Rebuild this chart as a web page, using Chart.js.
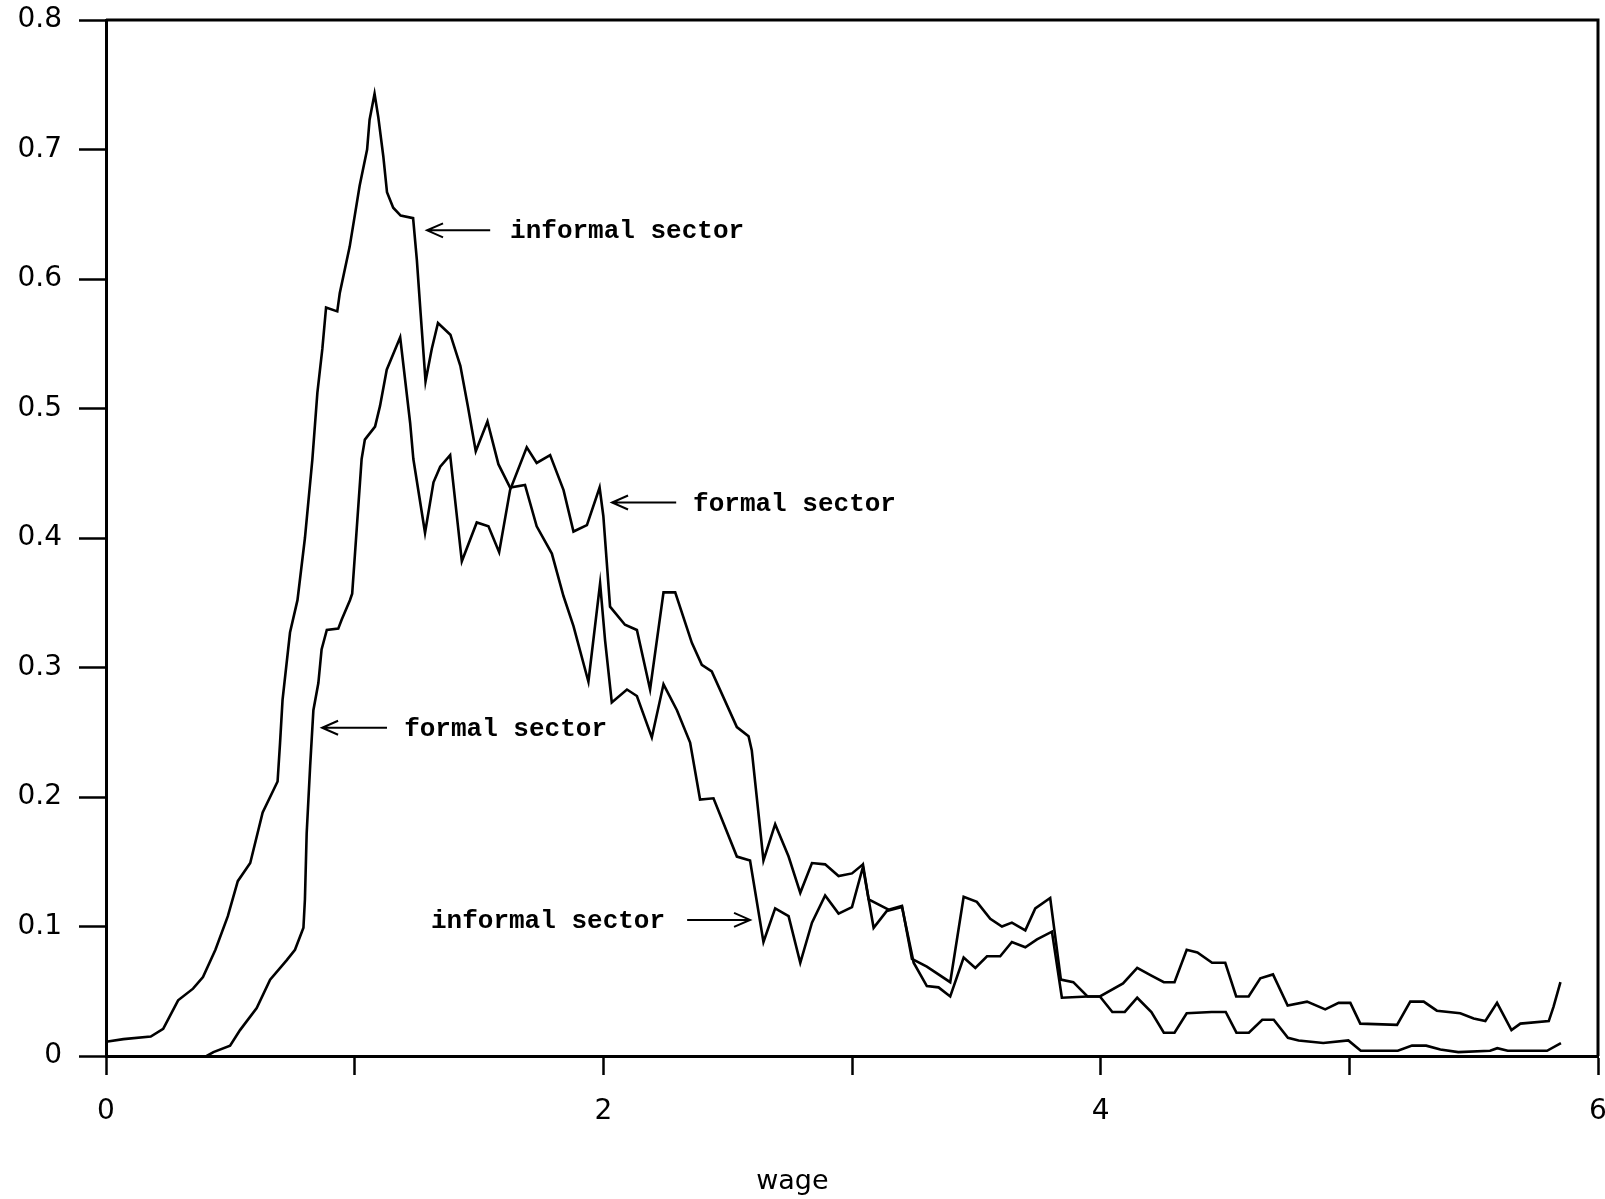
<!DOCTYPE html>
<html>
<head>
<meta charset="utf-8">
<script src="https://cdn.jsdelivr.net/npm/chart.js@4.4.1/dist/chart.umd.min.js"></script>
<style>
  html, body { margin: 0; padding: 0; background: #fff; }
  #wrap { width: 1605px; height: 1199px; }
</style>
</head>
<body>
<div id="wrap"><canvas id="wage-chart" width="1605" height="1199"></canvas></div>
<script>
// wage density
var informalWage = [
  0, 0.07, 0.18, 0.23, 0.29, 0.35, 0.39, 0.44, 0.49, 0.53,
  0.58, 0.63, 0.69, 0.70, 0.71, 0.74, 0.77, 0.80, 0.83, 0.85,
  0.87, 0.885, 0.93, 0.94, 0.98, 1.02, 1.05, 1.06, 1.08, 1.095,
  1.115, 1.13, 1.155, 1.185, 1.235, 1.25, 1.265, 1.285, 1.31, 1.335,
  1.385, 1.425, 1.455, 1.487, 1.534, 1.578, 1.625, 1.685, 1.732, 1.793,
  1.84, 1.88, 1.94, 1.987, 2.007, 2.034, 2.095, 2.135, 2.195, 2.242,
  2.296, 2.349, 2.389, 2.443, 2.537, 2.59, 2.644, 2.691, 2.745, 2.792,
  2.839, 2.892, 2.946, 3.0, 3.044, 3.087, 3.14, 3.201, 3.248, 3.301,
  3.348, 3.395, 3.449, 3.496, 3.543, 3.596, 3.643, 3.697, 3.744, 3.804,
  3.844, 3.947, 3.997, 4.047, 4.097, 4.147, 4.204, 4.254, 4.297, 4.346,
  4.446, 4.503, 4.546, 4.596, 4.65, 4.696, 4.753, 4.796, 4.895, 4.996,
  5.046, 5.195, 5.252, 5.309, 5.366, 5.438, 5.566, 5.595, 5.637, 5.795,
  5.851
];
var informalDensity = [
  0.011, 0.013, 0.015, 0.021, 0.043, 0.052, 0.061, 0.082, 0.108, 0.135,
  0.149, 0.188, 0.212, 0.242, 0.275, 0.327, 0.352, 0.40, 0.461, 0.512,
  0.546, 0.578, 0.575, 0.589, 0.625, 0.672, 0.700, 0.723, 0.743, 0.725,
  0.695, 0.667, 0.655, 0.649, 0.647, 0.615, 0.574, 0.521, 0.546, 0.566,
  0.557, 0.533, 0.502, 0.467, 0.490, 0.457, 0.439, 0.441, 0.409, 0.388,
  0.355, 0.332, 0.289, 0.365, 0.321, 0.273, 0.283, 0.278, 0.246, 0.287,
  0.267, 0.242, 0.198, 0.199, 0.154, 0.151, 0.088, 0.114, 0.108, 0.072,
  0.103, 0.124, 0.110, 0.115, 0.146, 0.099, 0.112, 0.115, 0.072, 0.054,
  0.053, 0.046, 0.076, 0.068, 0.077, 0.077, 0.088, 0.084, 0.090, 0.096,
  0.045, 0.046, 0.046, 0.034, 0.034, 0.045, 0.034, 0.018, 0.018, 0.033,
  0.034, 0.034, 0.018, 0.018, 0.028, 0.028, 0.014, 0.012, 0.010, 0.012,
  0.004, 0.004, 0.008, 0.008, 0.005, 0.003, 0.004, 0.006, 0.004, 0.004,
  0.010
];
var formalWage = [
  0.405, 0.432, 0.499, 0.539, 0.606, 0.660, 0.727, 0.760, 0.794, 0.800,
  0.807, 0.821, 0.834, 0.854, 0.867, 0.888, 0.934, 0.948, 0.981, 0.99,
  1.028, 1.041, 1.082, 1.102, 1.129, 1.183, 1.203, 1.223, 1.236, 1.283,
  1.317, 1.344, 1.384, 1.431, 1.491, 1.538, 1.581, 1.625, 1.692, 1.732,
  1.786, 1.840, 1.880, 1.934, 1.985, 2.0, 2.027, 2.087, 2.135, 2.188,
  2.242, 2.289, 2.356, 2.396, 2.436, 2.537, 2.584, 2.597, 2.644, 2.691,
  2.745, 2.792, 2.839, 2.892, 2.946, 3.0, 3.044, 3.067, 3.147, 3.201,
  3.241, 3.301, 3.395, 3.449, 3.502, 3.556, 3.603, 3.643, 3.697, 3.737,
  3.797, 3.840, 3.890, 3.947, 3.997, 4.090, 4.147, 4.204, 4.254, 4.297,
  4.346, 4.389, 4.448, 4.501, 4.545, 4.595, 4.642, 4.693, 4.752, 4.830,
  4.903, 4.957, 5.004, 5.044, 5.192, 5.245, 5.299, 5.352, 5.446, 5.50,
  5.547, 5.594, 5.652, 5.688, 5.802, 5.821, 5.849
];
var formalDensity = [
  0.0, 0.003, 0.008, 0.020, 0.037, 0.059, 0.074, 0.082, 0.099, 0.121,
  0.172, 0.224, 0.267, 0.288, 0.314, 0.329, 0.330, 0.337, 0.352, 0.357,
  0.461, 0.476, 0.486, 0.502, 0.530, 0.555, 0.522, 0.489, 0.461, 0.404,
  0.443, 0.455, 0.464, 0.382, 0.412, 0.409, 0.389, 0.437, 0.470, 0.458,
  0.464, 0.437, 0.405, 0.410, 0.439, 0.417, 0.347, 0.333, 0.329, 0.283,
  0.358, 0.358, 0.319, 0.302, 0.297, 0.254, 0.247, 0.236, 0.151, 0.179,
  0.154, 0.126, 0.149, 0.148, 0.139, 0.141, 0.148, 0.121, 0.113, 0.116,
  0.075, 0.069, 0.057, 0.123, 0.119, 0.106, 0.100, 0.103, 0.097, 0.114,
  0.122, 0.059, 0.057, 0.046, 0.046, 0.056, 0.068, 0.062, 0.057, 0.057,
  0.082, 0.080, 0.072, 0.072, 0.046, 0.046, 0.060, 0.063, 0.039, 0.042,
  0.036, 0.041, 0.041, 0.025, 0.024, 0.042, 0.042, 0.035, 0.033, 0.029,
  0.027, 0.041, 0.020, 0.025, 0.027, 0.038, 0.057
];
var xLabelled = [0, 2, 4, 6];

// arrows with text, in data units: arrow tip, arrow tail, text start
var notes = [
  { text: 'informal sector', tip: 1.291, tail: 1.545, textX: 1.625, y: 0.6376 },
  { text: 'formal sector',   tip: 2.035, tail: 2.293, textX: 2.361, y: 0.4274 },
  { text: 'formal sector',   tip: 0.869, tail: 1.130, textX: 1.199, y: 0.2535 },
  { text: 'informal sector', tip: 2.590, tail: 2.337, textX: 1.307, y: 0.1051 }
];

function pairs(xs, ys) {
  return xs.map(function (x, i) { return { x: x, y: ys[i] }; });
}

var sketchExtras = {
  id: 'sketchExtras',
  afterDraw: function (chart) {
    var ctx = chart.ctx, a = chart.chartArea;
    var sx = chart.scales.x, sy = chart.scales.y;
    ctx.save();
    // top and right frame
    ctx.strokeStyle = '#000';
    ctx.lineWidth = 3;
    ctx.beginPath();
    ctx.moveTo(a.left, a.top);
    ctx.lineTo(a.right, a.top);
    ctx.lineTo(a.right, a.bottom);
    ctx.stroke();

    ctx.lineWidth = 2;
    ctx.fillStyle = '#000';
    ctx.font = 'bold 26px "Liberation Mono", "Courier New", monospace';
    ctx.textBaseline = 'alphabetic';
    notes.forEach(function (n) {
      var y = sy.getPixelForValue(n.y);
      var tip = sx.getPixelForValue(n.tip), tail = sx.getPixelForValue(n.tail);
      var d = tail > tip ? 1 : -1;
      ctx.beginPath();
      ctx.moveTo(tail, y);
      ctx.lineTo(tip, y);
      ctx.moveTo(tip + d * 16, y - 7);
      ctx.lineTo(tip, y);
      ctx.lineTo(tip + d * 16, y + 7);
      ctx.stroke();
      ctx.textAlign = 'left';
      ctx.fillText(n.text, sx.getPixelForValue(n.textX), y + 8);
    });

    ctx.font = '27px "DejaVu Sans", sans-serif';
    ctx.textAlign = 'center';
    ctx.textBaseline = 'middle';
    ctx.fillText('wage', sx.getPixelForValue(2.76), a.bottom + 126);
    ctx.restore();
  }
};

var tickFont = { family: '"DejaVu Sans", sans-serif', size: 28, weight: 'normal' };

var ctx = document.getElementById('wage-chart');
var wageChart = new Chart(ctx, {
  type: 'line',
  data: {
    datasets: [
      {
        label: 'informal sector',
        data: pairs(informalWage, informalDensity),
        borderColor: '#000',
        borderWidth: 2.6,
        pointRadius: 0,
        tension: 0,
        fill: false
      },
      {
        label: 'formal sector',
        data: pairs(formalWage, formalDensity),
        borderColor: '#000',
        borderWidth: 2.6,
        pointRadius: 0,
        tension: 0,
        fill: false
      }
    ]
  },
  options: {
    responsive: false,
    animation: false,
    devicePixelRatio: 1,
    layout: { padding: { left: 0, top: 20, right: 7, bottom: 0 } },
    plugins: {
      legend: { display: false },
      tooltip: { enabled: false }
    },
    scales: {
      x: {
        type: 'linear',
        min: 0,
        max: 6,
        ticks: {
          stepSize: 1,
          autoSkip: false,
          maxRotation: 0,
          padding: 20,
          color: '#000',
          font: tickFont,
          callback: function (v) { return xLabelled.indexOf(v) >= 0 ? String(v) : ''; }
        },
        grid: { drawOnChartArea: false, drawTicks: true, tickLength: 19, tickWidth: 2.5, tickColor: '#000' },
        border: { display: true, color: '#000', width: 3 },
        afterFit: function (s) {
          s.height = 143;
          s.paddingLeft = 0;
          s.paddingRight = 0;
        }
      },
      y: {
        min: 0,
        max: 0.8,
        ticks: {
          stepSize: 0.1,
          padding: 17,
          color: '#000',
          font: tickFont
        },
        grid: { drawOnChartArea: false, drawTicks: true, tickLength: 27, tickWidth: 2.5, tickColor: '#000' },
        border: { display: true, color: '#000', width: 3 },
        afterFit: function (s) {
          s.width = 106;
          s.paddingTop = 0;
          s.paddingBottom = 0;
        }
      }
    }
  },
  plugins: [sketchExtras]
});
</script>
</body>
</html>
